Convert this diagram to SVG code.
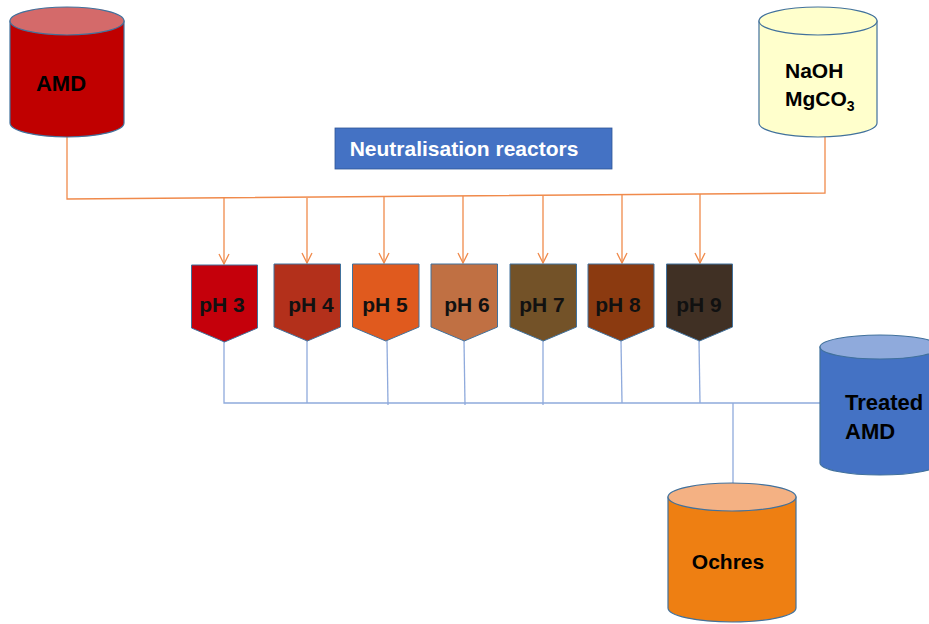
<svg xmlns="http://www.w3.org/2000/svg" width="929" height="624" viewBox="0 0 929 624">
<defs>
<style>
.cyl{stroke:#41719C;stroke-width:1.2}
.lbl{font-family:"Liberation Sans",Arial,sans-serif;font-weight:bold;fill:#000}
.ph{stroke:#41719C;stroke-width:1}
.phl{font-family:"Liberation Sans",Arial,sans-serif;font-weight:bold;font-size:21px;fill:#111;text-anchor:middle}
.or{stroke:#F08A4B;stroke-width:1.3;fill:none}
.bl{stroke:#8FAADC;stroke-width:1.3;fill:none}
</style>
<marker id="ah" viewBox="0 0 12 12" refX="11" refY="6" markerWidth="12" markerHeight="12" markerUnits="userSpaceOnUse" orient="auto">
<path d="M1,1 L11,6 L1,11" fill="none" stroke="#F08A4B" stroke-width="1.3"/>
</marker>
</defs>
<rect width="929" height="624" fill="#fff"/>
<g id="connectors">
<path class="or" d="M67,137 V199 L825,193 V137"/>
<line class="or" x1="224" y1="198" x2="224" y2="264" marker-end="url(#ah)"/>
<line class="or" x1="307" y1="198" x2="307" y2="263" marker-end="url(#ah)"/>
<line class="or" x1="384" y1="197" x2="384" y2="263" marker-end="url(#ah)"/>
<line class="or" x1="463" y1="196" x2="463" y2="263" marker-end="url(#ah)"/>
<line class="or" x1="543" y1="196" x2="543" y2="263" marker-end="url(#ah)"/>
<line class="or" x1="622" y1="195" x2="622" y2="263" marker-end="url(#ah)"/>
<line class="or" x1="700" y1="194" x2="700" y2="263" marker-end="url(#ah)"/>
<path class="bl" d="M224,342 V403 H820"/>
<line class="bl" x1="307" y1="341" x2="307" y2="403"/>
<line class="bl" x1="387" y1="341" x2="388" y2="405"/>
<line class="bl" x1="464" y1="341" x2="465" y2="405"/>
<line class="bl" x1="543" y1="341" x2="543" y2="405"/>
<line class="bl" x1="621" y1="341" x2="622" y2="403"/>
<line class="bl" x1="699" y1="341" x2="700" y2="403"/>
<line class="bl" x1="733" y1="403" x2="733" y2="484"/>
</g>
<g id="amd">
<path class="cyl" fill="#C00000" d="M10,21 V123 A57,14 0 0 0 124,123 V21 Z"/>
<ellipse class="cyl" cx="67" cy="21" rx="57" ry="14" fill="#D46A6A"/>
<text class="lbl" x="61" y="91" font-size="22" text-anchor="middle">AMD</text>
</g>
<g id="naoh">
<path class="cyl" fill="#FFFFCC" d="M759,21 V123 A59,14 0 0 0 877,123 V21 Z"/>
<ellipse class="cyl" cx="818" cy="21" rx="59" ry="14" fill="#FFFFCC"/>
<text class="lbl" x="785" y="78" font-size="21">NaOH</text>
<text class="lbl" x="785" y="106" font-size="21">MgCO<tspan font-size="14" dy="5">3</tspan></text>
</g>
<g id="title">
<rect x="335" y="128" width="277" height="41" fill="#4472C4" stroke="#2F5597" stroke-width="0.8"/>
<text x="464" y="156" font-family="Liberation Sans, Arial, sans-serif" font-weight="bold" font-size="21" fill="#fff" text-anchor="middle">Neutralisation reactors</text>
</g>
<g id="ph3"><path class="ph" fill="#C5000B" d="M191.5,265 H257.5 V328 L224.5,342 L191.5,328 Z"/><text class="phl" x="222" y="312">pH 3</text></g>
<g id="ph4"><path class="ph" fill="#B3301B" d="M274,264 H340.5 V327 L307.3,341 L274,327 Z"/><text class="phl" x="311" y="312">pH 4</text></g>
<g id="ph5"><path class="ph" fill="#E05A1E" d="M352.5,264 H419 V327 L385.8,341 L352.5,327 Z"/><text class="phl" x="385" y="312">pH 5</text></g>
<g id="ph6"><path class="ph" fill="#C07043" d="M431,264 H497.5 V327 L464.3,341 L431,327 Z"/><text class="phl" x="467" y="312">pH 6</text></g>
<g id="ph7"><path class="ph" fill="#735228" d="M510,264 H576.5 V327 L543.3,341 L510,327 Z"/><text class="phl" x="542" y="312">pH 7</text></g>
<g id="ph8"><path class="ph" fill="#8B3A10" d="M588,264 H654 V327 L621,341 L588,327 Z"/><text class="phl" x="618" y="312">pH 8</text></g>
<g id="ph9"><path class="ph" fill="#403024" d="M666.5,264 H732.5 V327 L699.5,341 L666.5,327 Z"/><text class="phl" x="699" y="312">pH 9</text></g>
<g id="treated">
<path class="cyl" fill="#4472C4" d="M820,347 V463 A60,12 0 0 0 940,463 V347 Z"/>
<ellipse class="cyl" cx="880" cy="347" rx="60" ry="12" fill="#8FAADC"/>
<text class="lbl" x="845" y="410" font-size="22">Treated</text>
<text class="lbl" x="845" y="439" font-size="22">AMD</text>
</g>
<g id="ochres">
<path class="cyl" fill="#EE7F12" d="M668,497 V608 A64,14 0 0 0 796,608 V497 Z"/>
<ellipse class="cyl" cx="732" cy="497" rx="64" ry="14" fill="#F4B183"/>
<text class="lbl" x="728" y="569" font-size="21" text-anchor="middle">Ochres</text>
</g>
</svg>
